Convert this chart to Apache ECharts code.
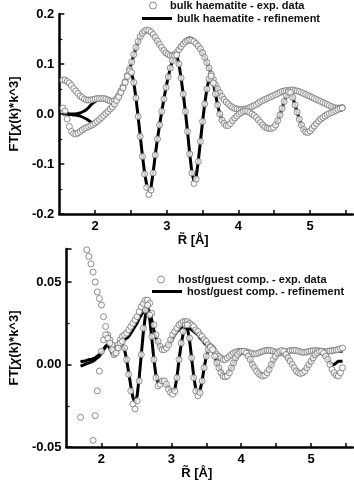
<!DOCTYPE html>
<html>
<head>
<meta charset="utf-8">
<script src="https://cdn.jsdelivr.net/npm/echarts@6/dist/echarts.min.js"></script>
<style>
html,body{margin:0;padding:0;background:#fff;}
#chart{width:354px;height:481px;}
</style>
</head>
<body>
<div id="chart"></div>
<script>
// distance grid R (Å) shared by all curves
const rGrid = [
1.55,1.58,1.61,1.64,1.67,1.70,1.73,1.76,1.79,1.82,
1.85,1.88,1.91,1.94,1.97,2.00,2.03,2.06,2.09,2.12,
2.15,2.18,2.21,2.24,2.27,2.30,2.33,2.36,2.39,2.42,
2.45,2.48,2.51,2.54,2.57,2.60,2.63,2.66,2.69,2.72,
2.75,2.78,2.81,2.84,2.87,2.90,2.93,2.96,2.99,3.02,
3.05,3.08,3.11,3.14,3.17,3.20,3.23,3.26,3.29,3.32,
3.35,3.38,3.41,3.44,3.47,3.50,3.53,3.56,3.59,3.62,
3.65,3.68,3.71,3.74,3.77,3.80,3.83,3.86,3.89,3.92,
3.95,3.98,4.01,4.04,4.07,4.10,4.13,4.16,4.19,4.22,
4.25,4.28,4.31,4.34,4.37,4.40,4.43,4.46,4.49,4.52,
4.55,4.58,4.61,4.64,4.67,4.70,4.73,4.76,4.79,4.82,
4.85,4.88,4.91,4.94,4.97,5.00,5.03,5.06,5.09,5.12,
5.15,5.18,5.21,5.24,5.27,5.30,5.33,5.36,5.39,5.42,
5.45];

// ---- top panel: bulk haematite ----
const bulkExpMag = [
0.068,0.068,0.065,0.062,0.057,0.051,0.046,0.041,0.036,0.033,
0.030,0.028,0.028,0.028,0.029,0.030,0.031,0.031,0.031,0.031,
0.030,0.028,0.026,0.025,0.027,0.031,0.038,0.046,0.055,0.065,
0.077,0.090,0.104,0.119,0.133,0.145,0.155,0.162,0.166,0.168,
0.167,0.164,0.159,0.153,0.146,0.139,0.133,0.127,0.122,0.119,
0.117,0.117,0.119,0.123,0.129,0.135,0.140,0.144,0.147,0.148,
0.147,0.145,0.141,0.136,0.130,0.122,0.113,0.103,0.092,0.080,
0.069,0.059,0.050,0.042,0.035,0.029,0.024,0.020,0.016,0.013,
0.011,0.010,0.009,0.009,0.009,0.010,0.011,0.013,0.015,0.017,
0.019,0.022,0.025,0.027,0.029,0.031,0.033,0.035,0.037,0.039,
0.041,0.043,0.045,0.046,0.047,0.047,0.048,0.048,0.047,0.046,
0.045,0.043,0.041,0.039,0.037,0.035,0.033,0.031,0.029,0.027,
0.025,0.023,0.021,0.019,0.017,0.015,0.013,0.012,0.012,0.012,
0.013];
const bulkExpIm = [
0.012,0.006,-0.010,-0.025,-0.035,-0.039,-0.040,-0.038,-0.035,-0.032,
-0.029,-0.027,-0.025,-0.023,-0.021,-0.018,-0.015,-0.011,-0.007,-0.003,
0.001,0.005,0.010,0.014,0.020,0.027,0.034,0.043,0.052,0.063,
0.075,0.086,0.083,0.063,0.032,-0.005,-0.045,-0.085,-0.120,-0.147,
-0.161,-0.152,-0.118,-0.082,-0.050,-0.022,0.005,0.030,0.053,0.074,
0.092,0.107,0.117,0.118,0.100,0.072,0.040,0.005,-0.035,-0.080,
-0.118,-0.139,-0.130,-0.095,-0.055,-0.015,0.020,0.050,0.070,0.076,
0.062,0.040,0.018,0.000,-0.012,-0.019,-0.023,-0.023,-0.019,-0.013,
-0.008,-0.004,0.000,0.003,0.005,0.006,0.005,0.003,0.000,-0.003,
-0.007,-0.012,-0.017,-0.022,-0.026,-0.028,-0.029,-0.029,-0.027,-0.022,
-0.013,-0.002,0.011,0.025,0.037,0.044,0.043,0.033,0.018,0.004,
-0.010,-0.022,-0.031,-0.036,-0.037,-0.034,-0.029,-0.024,-0.019,-0.014,
-0.010,-0.007,-0.004,-0.001,0.001,0.003,0.005,0.007,0.009,0.011,
0.012];
const bulkFitMag = [
0.001,0.001,0.001,0.000,0.000,0.000,0.000,0.001,0.002,0.004,
0.006,0.009,0.013,0.018,0.022,0.025,0.027,0.029,0.030,0.030,
0.029,0.027,0.025,0.024,0.026,0.030,0.037,0.045,0.054,0.064,
0.076,0.089,0.103,0.118,0.132,0.144,0.154,0.161,0.165,0.167,
0.166,0.163,0.158,0.152,0.145,0.138,0.132,0.126,0.121,0.118,
0.117,0.117,0.120,0.125,0.131,0.137,0.143,0.148,0.151,0.152,
0.151,0.148,0.143,0.137,0.130,0.122,0.113,0.103,0.092,0.080,
0.069,0.059,0.050,0.042,0.035,0.029,0.024,0.020,0.016,0.013,
0.011,0.010,0.009,0.009,0.009,0.010,0.011,0.013,0.015,0.017,
0.019,0.022,0.025,0.027,0.029,0.031,0.033,0.035,0.037,0.039,
0.041,0.043,0.045,0.046,0.047,0.047,0.048,0.048,0.047,0.046,
0.045,0.043,0.041,0.039,0.037,0.035,0.033,0.031,0.029,0.027,
0.025,0.023,0.021,0.019,0.017,0.015,0.013,0.011,0.010,0.009,
0.008];
const bulkFitIm = [
0.000,0.000,0.000,-0.001,-0.001,-0.002,-0.002,-0.003,-0.004,-0.006,
-0.008,-0.010,-0.013,-0.016,-0.018,-0.019,-0.017,-0.012,-0.007,-0.003,
0.001,0.005,0.010,0.014,0.020,0.027,0.034,0.043,0.052,0.063,
0.075,0.085,0.082,0.063,0.032,-0.005,-0.044,-0.083,-0.117,-0.142,
-0.153,-0.147,-0.117,-0.082,-0.050,-0.022,0.005,0.030,0.053,0.074,
0.092,0.107,0.117,0.118,0.100,0.072,0.040,0.005,-0.035,-0.079,
-0.116,-0.135,-0.127,-0.094,-0.055,-0.015,0.020,0.050,0.070,0.075,
0.062,0.040,0.018,0.000,-0.012,-0.019,-0.023,-0.023,-0.019,-0.013,
-0.008,-0.004,0.000,0.003,0.005,0.006,0.005,0.003,0.000,-0.003,
-0.007,-0.012,-0.017,-0.022,-0.026,-0.028,-0.029,-0.029,-0.027,-0.022,
-0.013,-0.002,0.011,0.025,0.037,0.044,0.043,0.033,0.018,0.004,
-0.010,-0.022,-0.031,-0.036,-0.037,-0.034,-0.029,-0.024,-0.019,-0.014,
-0.010,-0.007,-0.004,-0.001,0.001,0.003,0.005,0.006,0.007,0.008,
0.008];

// ---- bottom panel: host/guest compound ----
const hgExpMag = [
0.115,0.110,0.104,0.098,0.092,0.086,0.080,0.075,0.0695,0.0655,
0.061,0.056,0.050,0.044,0.040,0.036,0.029,0.023,0.018,0.015,
0.012,0.008,0.009,0.012,0.015,0.017,0.018,0.019,0.021,0.023,
0.025,0.027,0.029,0.032,0.035,0.037,0.039,0.039,0.037,0.031,
0.024,0.018,0.014,0.011,0.009,0.009,0.010,0.012,0.015,0.018,
0.020,0.022,0.024,0.025,0.026,0.026,0.026,0.025,0.024,0.023,
0.021,0.020,0.018,0.017,0.015,0.014,0.012,0.011,0.010,0.008,
0.006,0.005,0.004,0.003,0.003,0.004,0.005,0.006,0.007,0.0075,
0.008,0.008,0.008,0.008,0.0078,0.0074,0.007,0.0066,0.0064,0.0066,
0.007,0.0076,0.008,0.0084,0.0086,0.0086,0.0084,0.008,0.0076,0.0072,
0.007,0.007,0.0072,0.0076,0.008,0.0084,0.0086,0.0086,0.0084,0.008,
0.0076,0.0074,0.0074,0.0076,0.008,0.0082,0.0084,0.0084,0.0084,0.0082,
0.008,0.0078,0.0078,0.008,0.0082,0.0084,0.0086,0.0088,0.009,0.0095,
0.010];
const hgExpIm = [
0.090,0.120,0.085,-0.060,-0.110,-0.032,0.080,0.100,-0.065,-0.095,
-0.075,-0.046,-0.031,-0.016,-0.004,0.008,0.015,0.018,0.016,0.013,
0.009,0.006,0.007,0.010,0.013,0.014,0.010,0.003,-0.006,-0.016,
-0.024,-0.027,-0.022,-0.010,0.006,0.022,0.033,0.036,0.030,0.017,
0.003,-0.008,-0.013,-0.012,-0.010,-0.010,-0.012,-0.015,-0.017,-0.018,
-0.016,-0.008,0.003,0.013,0.020,0.024,0.024,0.016,0.004,-0.008,
-0.016,-0.019,-0.017,-0.010,-0.002,0.005,0.009,0.0105,0.009,0.005,
0.001,-0.002,-0.005,-0.007,-0.0075,-0.007,-0.005,-0.002,0.001,0.004,
0.006,0.0075,0.008,0.008,0.007,0.005,0.003,0.000,-0.002,-0.004,
-0.0055,-0.0065,-0.007,-0.0065,-0.005,-0.003,0.000,0.003,0.005,0.007,
0.008,0.0085,0.008,0.006,0.004,0.002,0.000,-0.002,-0.004,-0.005,
-0.0055,-0.005,-0.004,-0.002,0.000,0.002,0.004,0.006,0.007,0.008,
0.008,0.007,0.005,0.003,0.000,-0.003,-0.005,-0.0065,-0.007,-0.005,
-0.002];
const hgFitMag = [
null,null,null,null,null,0.0015,0.002,0.002,0.0025,0.003,
0.003,0.0035,0.004,0.005,0.006,0.007,0.009,0.011,0.012,0.010,
0.007,0.005,0.007,0.010,0.012,0.013,0.015,0.016,0.017,0.019,
0.021,0.023,0.025,0.028,0.030,0.032,0.034,0.034,0.032,0.027,
0.021,0.016,0.013,0.011,0.010,0.010,0.011,0.012,0.014,0.016,
0.018,0.020,0.021,0.022,0.023,0.023,0.023,0.022,0.021,0.020,
0.019,0.018,0.016,0.015,0.013,0.012,0.011,0.010,0.009,0.007,
0.006,0.005,0.004,0.004,0.004,0.004,0.005,0.0055,0.006,0.0065,
0.007,0.007,0.007,0.007,0.007,0.0065,0.006,0.006,0.006,0.006,
0.0065,0.007,0.0075,0.008,0.008,0.008,0.0075,0.007,0.007,0.0065,
0.0065,0.0065,0.007,0.007,0.0075,0.008,0.008,0.008,0.008,0.0075,
0.007,0.007,0.007,0.007,0.0075,0.0075,0.008,0.008,0.008,0.0075,
0.0075,0.007,0.007,0.007,0.0075,0.0075,0.008,0.008,0.008,0.008,
0.008];
const hgFitIm = [
null,null,null,null,null,-0.001,-0.0005,0.000,0.0005,0.001,
0.0015,0.002,0.003,0.004,0.005,0.007,0.009,0.011,0.012,0.010,
0.007,0.005,0.007,0.010,0.012,0.012,0.009,0.003,-0.005,-0.013,
-0.020,-0.023,-0.019,-0.008,0.006,0.020,0.030,0.033,0.028,0.016,
0.003,-0.007,-0.011,-0.011,-0.010,-0.010,-0.012,-0.014,-0.016,-0.017,
-0.015,-0.008,0.003,0.012,0.019,0.022,0.022,0.015,0.004,-0.007,
-0.015,-0.018,-0.016,-0.010,-0.002,0.005,0.009,0.010,0.009,0.005,
0.001,-0.002,-0.004,-0.006,-0.0065,-0.006,-0.004,-0.002,0.001,0.003,
0.005,0.006,0.007,0.007,0.006,0.005,0.003,0.000,-0.002,-0.003,
-0.005,-0.006,-0.006,-0.006,-0.005,-0.003,0.000,0.002,0.004,0.006,
0.007,0.007,0.007,0.005,0.004,0.002,0.000,-0.002,-0.003,-0.004,
-0.005,-0.004,-0.003,-0.002,0.000,0.002,0.004,0.005,0.006,0.007,
0.007,0.006,0.005,0.003,0.001,0.000,0.000,0.001,0.002,0.002,
0.002];

const topNames = ['bulk haematite - exp. data', 'bulk haematite - refinement'];
const botNames = ['host/guest comp. - exp. data', 'host/guest comp. - refinement'];
const xTickStep = 0.5;

function pairs(xs, ys) {
  const out = [];
  for (let i = 0; i < xs.length; i++) {
    if (ys[i] !== null && ys[i] !== undefined) out.push([xs[i], ys[i]]);
  }
  return out;
}

const FONT = '"Liberation Sans", Arial, Helvetica, sans-serif';
const axisLabelStyle = { color: '#000', fontFamily: FONT, fontWeight: 'bold', fontSize: 13 };

function xAxisCfg(gi) {
  return {
    type: 'value', gridIndex: gi, min: 1.5, max: 5.6, interval: xTickStep,
    axisLine: { show: true, onZero: false, lineStyle: { color: '#000', width: 2.5 } },
    axisTick: { show: true, inside: true, length: 4, lineStyle: { color: '#000', width: 1.5 } },
    minorTick: { show: false },
    splitLine: { show: false },
    axisLabel: Object.assign({}, axisLabelStyle, {
      margin: 6, showMaxLabel: false, showMinLabel: false,
      formatter: function (v) { return Math.abs(v - Math.round(v)) < 1e-6 ? String(Math.round(v)) : ''; }
    }),
    name: 'R\u0303 [\u00C5]', nameLocation: 'middle', nameGap: 20,
    nameTextStyle: { color: '#000', fontFamily: FONT, fontWeight: 'bold', fontSize: 13, padding: [0, 26, 0, 0] }
  };
}
function yAxisCfg(gi, min, max, interval, digits) {
  return {
    type: 'value', gridIndex: gi, min: min, max: max, interval: interval,
    axisLine: { show: true, onZero: false, lineStyle: { color: '#000', width: 2.5 } },
    axisTick: { show: true, inside: true, length: 5, lineStyle: { color: '#000', width: 1.5 } },
    minorTick: { show: true, splitNumber: 2, length: 3, lineStyle: { color: '#000', width: 1.2 } },
    splitLine: { show: false },
    axisLabel: Object.assign({}, axisLabelStyle, {
      margin: 5, showMaxLabel: (max / interval) % 1 === 0,
      formatter: function (v) { return v.toFixed(digits); }
    }),
    name: '{a|FT[}{b|\u03C7}{a|(k)*k^3]}', nameLocation: 'middle', nameRotate: 90, nameGap: 34,
    nameTextStyle: {
      rich: {
        a: { color: '#000', fontFamily: FONT, fontWeight: 'bold', fontSize: 13 },
        b: { color: '#000', fontFamily: FONT, fontWeight: 'bold', fontStyle: 'italic', fontSize: 13 }
      }
    }
  };
}

const expStyle = { color: '#fff', borderColor: '#707070', borderWidth: 1 };
function expSeries(name, xi, ys) {
  return { name: name, type: 'scatter', xAxisIndex: xi, yAxisIndex: xi, data: pairs(rGrid, ys),
    symbol: 'circle', symbolSize: 6, itemStyle: expStyle, clip: true, z: 5, emphasis: { disabled: true } };
}
function fitSeries(name, xi, ys) {
  return { name: name, type: 'line', xAxisIndex: xi, yAxisIndex: xi, data: pairs(rGrid, ys),
    showSymbol: false, symbol: 'none', lineStyle: { color: '#000', width: 3 }, itemStyle: { color: '#000' },
    clip: true, z: 3, emphasis: { disabled: true } };
}
const legendText = { color: '#111', fontFamily: FONT, fontWeight: 'bold', fontSize: 11, lineHeight: 11 };
function expLegend(name, left, top) {
  return { data: [{ name: name, icon: 'circle' }], left: left, top: top, itemWidth: 24, itemHeight: 7,
    padding: 0, selectedMode: false,
    itemStyle: { color: '#fff', borderColor: '#707070', borderWidth: 1 },
    textStyle: legendText };
}
function fitLegend(name, left, top) {
  return { data: [{ name: name, icon: 'rect' }], left: left, top: top, itemWidth: 30, itemHeight: 3,
    padding: 0, selectedMode: false,
    itemStyle: { color: '#000', borderWidth: 0 },
    textStyle: legendText };
}

const chart = echarts.init(document.getElementById('chart'), null, { renderer: 'canvas' });
chart.setOption({
  animation: false,
  backgroundColor: '#fff',
  grid: [
    { left: 53, top: 14, width: 300, height: 200 },
    { left: 53, top: 249, width: 300, height: 200 }
  ],
  xAxis: [xAxisCfg(0), xAxisCfg(1)],
  yAxis: [yAxisCfg(0, -0.2, 0.2, 0.1, 1), yAxisCfg(1, -0.05, 0.07, 0.05, 2)],
  legend: [
    expLegend(topNames[0], 149, 0),
    fitLegend(topNames[1], 142, 13),
    expLegend(botNames[0], 157, 274),
    fitLegend(botNames[1], 152, 286)
  ],
  series: [
    fitSeries(topNames[1], 0, bulkFitMag),
    fitSeries(topNames[1], 0, bulkFitIm),
    expSeries(topNames[0], 0, bulkExpMag),
    expSeries(topNames[0], 0, bulkExpIm),
    fitSeries(botNames[1], 1, hgFitMag),
    fitSeries(botNames[1], 1, hgFitIm),
    expSeries(botNames[0], 1, hgExpMag),
    expSeries(botNames[0], 1, hgExpIm)
  ]
});
</script>
</body>
</html>
